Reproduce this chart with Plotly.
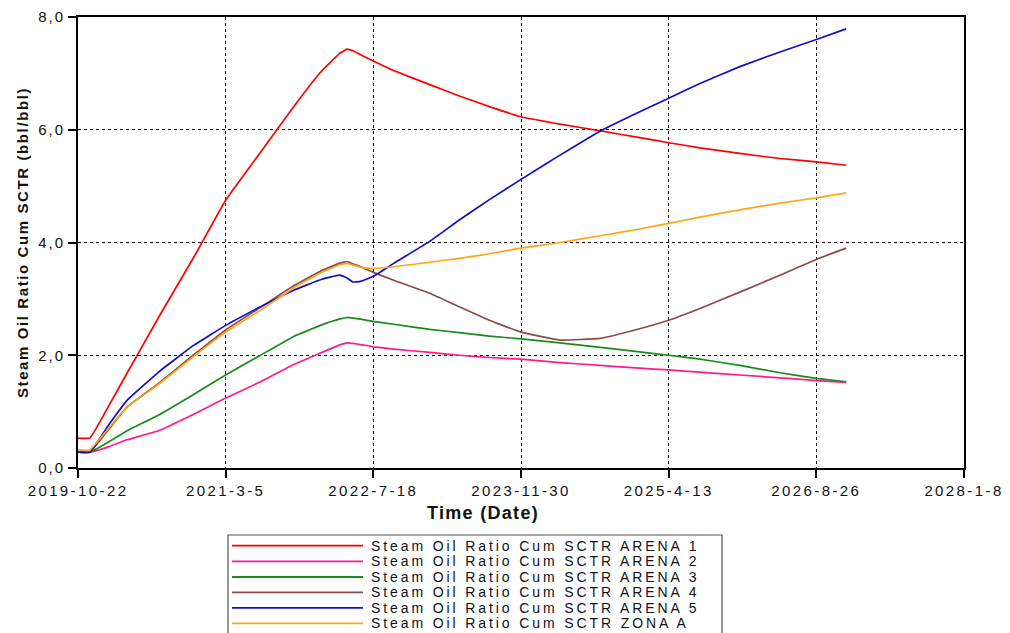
import plotly.graph_objects as go

# ---------------- data ----------------
dates = ["2019-10-22", "2019-12-01", "2020-02-05", "2020-04-05", "2020-07-25",
         "2020-11-15", "2021-03-05", "2021-07-01", "2021-10-20", "2022-01-20",
         "2022-03-25", "2022-04-20", "2022-05-10", "2022-06-05", "2022-07-18",
         "2022-09-25", "2023-01-25", "2023-05-05", "2023-08-15", "2023-11-30",
         "2024-04-10", "2024-08-25", "2025-01-05", "2025-04-13", "2025-07-28",
         "2025-12-10", "2026-04-25", "2026-08-26", "2026-12-05"]

arena1 = [0.53, 0.53, 1.12, 1.68, 2.71, 3.72, 4.75, 5.60, 6.40, 7.02,
          7.35, 7.43, 7.40, 7.33, 7.22, 7.05, 6.80, 6.60, 6.41, 6.23,
          6.10, 5.98, 5.86, 5.77, 5.68, 5.58, 5.49, 5.43, 5.37]
arena2 = [0.28, 0.28, 0.38, 0.50, 0.67, 0.95, 1.24, 1.53, 1.83, 2.04,
          2.18, 2.22, 2.21, 2.19, 2.15, 2.11, 2.05, 2.00, 1.96, 1.93,
          1.87, 1.82, 1.77, 1.74, 1.70, 1.65, 1.60, 1.55, 1.52]
arena3 = [0.28, 0.28, 0.47, 0.66, 0.95, 1.30, 1.65, 2.00, 2.33, 2.53,
          2.64, 2.67, 2.66, 2.64, 2.60, 2.55, 2.46, 2.40, 2.34, 2.29,
          2.22, 2.14, 2.06, 2.00, 1.93, 1.82, 1.69, 1.59, 1.53]
arena4 = [0.28, 0.28, 0.70, 1.08, 1.52, 2.00, 2.45, 2.85, 3.23, 3.49,
          3.63, 3.66, 3.62, 3.57, 3.47, 3.33, 3.10, 2.86, 2.62, 2.41,
          2.27, 2.30, 2.47, 2.62, 2.83, 3.12, 3.42, 3.70, 3.90]
arena5 = [0.28, 0.28, 0.78, 1.20, 1.72, 2.17, 2.53, 2.86, 3.15, 3.34,
          3.42, 3.37, 3.30, 3.31, 3.40, 3.63, 4.02, 4.40, 4.76, 5.12,
          5.55, 5.98, 6.32, 6.56, 6.82, 7.12, 7.38, 7.60, 7.79]
zonaA = [0.32, 0.32, 0.72, 1.08, 1.50, 1.97, 2.41, 2.80, 3.19, 3.46,
         3.60, 3.63, 3.60, 3.56, 3.54, 3.57, 3.65, 3.72, 3.80, 3.90,
         4.00, 4.12, 4.24, 4.34, 4.45, 4.58, 4.70, 4.79, 4.88]

names = ["Steam Oil Ratio Cum SCTR ARENA 1",
         "Steam Oil Ratio Cum SCTR ARENA 2",
         "Steam Oil Ratio Cum SCTR ARENA 3",
         "Steam Oil Ratio Cum SCTR ARENA 4",
         "Steam Oil Ratio Cum SCTR ARENA 5",
         "Steam Oil Ratio Cum SCTR ZONA A"]
values = [arena1, arena2, arena3, arena4, arena5, zonaA]
colors = ["#FF0000", "#FF1A8C", "#1A8A1A", "#8B4A4A", "#1010C8", "#FFA514"]

x_tickvals = ["2019-10-22", "2021-03-05", "2022-07-18", "2023-11-30",
              "2025-04-13", "2026-08-26", "2028-01-08"]
x_ticktext = ["2019-10-22", "2021-3-5", "2022-7-18", "2023-11-30",
              "2025-4-13", "2026-8-26", "2028-1-8"]
y_tickvals = [0, 2, 4, 6, 8]
y_ticktext = ["0,0", "2,0", "4,0", "6,0", "8,0"]

x_title = "Time (Date)"
y_title = "Steam Oil Ratio Cum SCTR (bbl/bbl)"

# ---------------- layout constants (pixels) ----------------
# the page body has an 8px margin, so the figure sits at (8, 8)
OFF = 8
W, H = 1010 - OFF, 633 - OFF
L, R, T, B = 78 - OFF, 46, 17 - OFF, 165
PW, PH = W - L - R, H - T - B
FONT = "Liberation Sans, Arial, sans-serif"
INK = "#111111"


def px_x(px):
    return (px - OFF - L) / PW


def px_y(py):
    return (H - B - (py - OFF)) / PH


def spaced(text, ls):
    return '<span style="letter-spacing:%spx">%s</span>' % (ls, text)


fig = go.Figure()
for name, vals, col in zip(names, values, colors):
    fig.add_trace(go.Scatter(x=dates, y=vals, mode="lines", name=name,
                             line=dict(color=col, width=1.7,
                                       shape="spline", smoothing=0.3),
                             showlegend=False))

# custom legend (box, line samples and labels)
shapes = [dict(type="rect", xref="paper", yref="paper",
               x0=px_x(228), x1=px_x(722), y0=px_y(660), y1=px_y(535),
               line=dict(color="#555555", width=1.2), fillcolor="white",
               layer="below")]
annotations = []
row_y = [545.7, 561.4, 577.0, 592.4, 607.8, 623.4]
for name, col, ry in zip(names, colors, row_y):
    shapes.append(dict(type="line", xref="paper", yref="paper",
                       x0=px_x(232), x1=px_x(363), y0=px_y(ry), y1=px_y(ry),
                       line=dict(color=col, width=1.8)))
    annotations.append(dict(xref="paper", yref="paper", x=px_x(369),
                            y=px_y(ry), xanchor="left", yanchor="middle",
                            text=spaced(name, 2.9), showarrow=False,
                            font=dict(family=FONT, size=14, color="#111118")))

# x-axis title (sits left of the plot centre in the reference)
annotations.append(dict(xref="paper", yref="paper", x=px_x(483),
                        y=px_y(513), xanchor="center", yanchor="middle",
                        text="<b>" + spaced(x_title, 1.3) + "</b>",
                        showarrow=False,
                        font=dict(family=FONT, size=18, color=INK)))

fig.update_layout(
    width=W, height=H,
    margin=dict(l=L, r=R, t=T, b=B, autoexpand=False),
    paper_bgcolor="white", plot_bgcolor="white",
    separators=",.",
    font=dict(family=FONT, size=15, color=INK),
    shapes=shapes, annotations=annotations,
    showlegend=False,
)
fig.update_xaxes(
    type="date", range=["2019-10-22", "2028-01-08"],
    tickmode="array", tickvals=x_tickvals,
    ticktext=[spaced(t, 2.4) for t in x_ticktext],
    showgrid=True, gridcolor="black", gridwidth=1, griddash="3px,3px",
    showline=True, linecolor="black", linewidth=2, mirror=True,
    ticks="outside", ticklen=8, tickwidth=2, tickcolor="black",
    tickfont=dict(family=FONT, size=15, color=INK),
    zeroline=False, automargin=False,
)
fig.update_yaxes(
    range=[0, 8], tickmode="array", tickvals=y_tickvals,
    ticktext=[spaced(t, 2.0) for t in y_ticktext],
    showgrid=True, gridcolor="black", gridwidth=1, griddash="3px,3px",
    showline=True, linecolor="black", linewidth=2, mirror=True,
    ticks="outside", ticklen=8, tickwidth=2, tickcolor="black",
    tickfont=dict(family=FONT, size=15, color=INK),
    title=dict(text="<b>" + spaced(y_title, 1.6) + "</b>", standoff=6,
               font=dict(family=FONT, size=15, color=INK)),
    zeroline=False, automargin=False,
)

fig.write_html("out.html")
